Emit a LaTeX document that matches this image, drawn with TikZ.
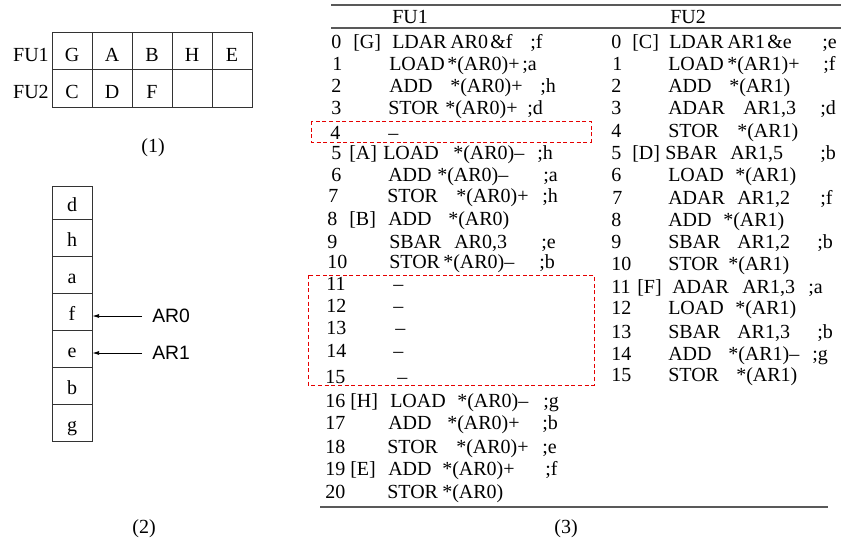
\documentclass[tikz,border=0pt]{standalone}
\usepackage{fontspec}
\setmainfont{Liberation Serif}
\newfontfamily\labsans{Liberation Sans}
\usetikzlibrary{arrows.meta}

% one listing row: #1 = name prefix, #2 = baseline y, #3 = list of x/text
\newcommand\listrow[3]{%
  \foreach \px/\tx [count=\k] in {#3}{\node[code] (#1-\k) at (\px,#2) {\tx};}}

\tikzset{
  txt/.style={font=\fontsize{15pt}{18pt}\selectfont, inner sep=0pt},
  code/.style={txt, anchor=base west},
  gridcell/.style={txt, draw=black!80, line width=0.6pt, minimum width=30pt,
    minimum height=28.1pt, text height=15pt, text depth=0pt},
  stackcell/.style={txt, draw=black!80, line width=0.6pt, minimum width=30pt,
    minimum height=27.75pt, text height=13.5pt, text depth=0pt},
  rowlabel/.style={txt, anchor=base east},
  ptr/.style={line width=0.6pt, -{Latex[length=5pt,width=3pt]}},
  ptrlabel/.style={font=\labsans\fontsize{14.5pt}{17pt}\selectfont, inner sep=0pt, anchor=west},
  rule/.style={line width=1pt, draw=black!65},
  gapbox/.style={draw=red!90!black, line width=0.6pt, dash pattern=on 3pt off 2pt}
}

\begin{document}
\begin{tikzpicture}[x=0.75pt, y=-0.75pt]
\useasboundingbox (0,0) rectangle (841,542);

% ---------------- (1) slot table ----------------
\node[rowlabel] (fu1) at (49,62) {FU1};
\node[rowlabel] (fu2) at (49,98) {FU2};
\foreach \c/\a/\b [count=\i] in {72/G/C, 112/A/D, 152/B/F, 192/H/{}, 232/E/{}}{
  \node[gridcell] (t1-\i) at (\c,51) {\a};
  \node[gridcell] (t2-\i) at (\c,88.5) {\b};
}
\node[txt] (cap1) at (153,148) {(1)};

% ---------------- (2) memory stack ----------------
\node[stackcell, minimum height=24.75pt] (m1) at (72,202.5) {d};
\foreach \t/\y [count=\i from 2] in {h/237.5, a/274.5, f/311.5, e/348.5, b/385.5, g/422.5}{
  \node[stackcell] (m\i) at (72,\y) {\t};
}
\node[ptrlabel] (ar0) at (152,316) {AR0};
\node[ptrlabel] (ar1) at (152,353) {AR1};
\coordinate (p0) at (142,316);
\coordinate (p1) at (142,353);
\draw[ptr] (p0) -- (p0 -| m4.east);
\draw[ptr] (p1) -- (p1 -| m5.east);
\node[txt] (cap2) at (144,529) {(2)};

% ---------------- (3) schedules ----------------
\draw[rule] (331,5) -- (841,5);
\draw[rule] (331,28) -- (841,28);
\draw[rule] (320,507) -- (828,507);
\node[code] (h1) at (392,24) {FU1};
\node[code] (h2) at (670,24) {FU2};

% FU1 column
\listrow{a0}{49}{331/0, 353/[G], 392/LDAR, 450/AR0, 490/\&f, 530/;f}
\listrow{a1}{70}{332/1, 389/LOAD, 447/*(AR0)+, 522/;a}
\listrow{a2}{92}{331/2, 389/ADD, 450/*(AR0)+, 540/;h}
\listrow{a3}{114}{331/3, 388/STOR, 445/*(AR0)+, 527/;d}
\listrow{a4}{139}{330/4, 388/–}
\listrow{a5}{159}{331/5, 349/[A], 383/LOAD, 453/*(AR0)–, 537/;h}
\listrow{a6}{181}{331/6, 388/ADD, 437/*(AR0)–, 543/;a}
\listrow{a7}{202}{328/7, 387/STOR, 456/*(AR0)+, 542/;h}
\listrow{a8}{225}{327/8, 349/[B], 388/ADD, 448/*(AR0)}
\listrow{a9}{248}{327/9, 389/SBAR, 454/{AR0,3}, 541/;e}
\listrow{a10}{268}{327/10, 389/STOR, 443/*(AR0)–, 539/;b}
\listrow{a11}{290}{326/11, 393/–}
\listrow{a12}{312}{326/12, 393/–}
\listrow{a13}{334}{326/13, 395/–}
\listrow{a14}{357}{326/14, 393/–}
\listrow{a15}{383}{325/15, 397/–}
\listrow{a16}{407}{325/16, 350/[H], 390/LOAD, 457/*(AR0)–, 543/;g}
\listrow{a17}{429}{325/17, 388/ADD, 447/*(AR0)+, 542/;b}
\listrow{a18}{453}{325/18, 387/STOR, 456/*(AR0)+, 542/;e}
\listrow{a19}{475}{325/19, 350/[E], 388/ADD, 442/*(AR0)+, 545/;f}
\listrow{a20}{498}{325/20, 387/STOR, 442/*(AR0)}

% FU2 column
\listrow{b0}{49}{611/0, 632/[C], 669/LDAR, 727/AR1, 767/\&e, 822/;e}
\listrow{b1}{70}{612/1, 668/LOAD, 727/*(AR1)+, 823/;f}
\listrow{b2}{92}{611/2, 668/ADD, 729/*(AR1)}
\listrow{b3}{114}{611/3, 668/ADAR, 743/{AR1,3}, 820/;d}
\listrow{b4}{137}{611/4, 668/STOR, 737/*(AR1)}
\listrow{b5}{159}{611/5, 632/[D], 665/SBAR, 730/{AR1,5}, 820/;b}
\listrow{b6}{181}{611/6, 668/LOAD, 735/*(AR1)}
\listrow{b7}{204}{612/7, 668/ADAR, 737/{AR1,2}, 820/;f}
\listrow{b8}{226}{611/8, 668/ADD, 723/*(AR1)}
\listrow{b9}{248}{611/9, 668/SBAR, 737/{AR1,2}, 817/;b}
\listrow{b10}{270}{611/10, 668/STOR, 728/*(AR1)}
\listrow{b11}{293}{611/11, 637/[F], 672/ADAR, 742/{AR1,3}, 808/;a}
\listrow{b12}{314}{611/12, 668/LOAD, 735/*(AR1)}
\listrow{b13}{338}{611/13, 668/SBAR, 737/{AR1,3}, 817/;b}
\listrow{b14}{360}{611/14, 668/ADD, 728/*(AR1)–, 812/;g}
\listrow{b15}{381}{611/15, 668/STOR, 736/*(AR1)}

% idle slots of FU1
\draw[gapbox] (311,121) rectangle (591,142);
\draw[gapbox] (308,275) rectangle (594,385);

\node[txt] (cap3) at (566,529) {(3)};
\end{tikzpicture}
\end{document}
